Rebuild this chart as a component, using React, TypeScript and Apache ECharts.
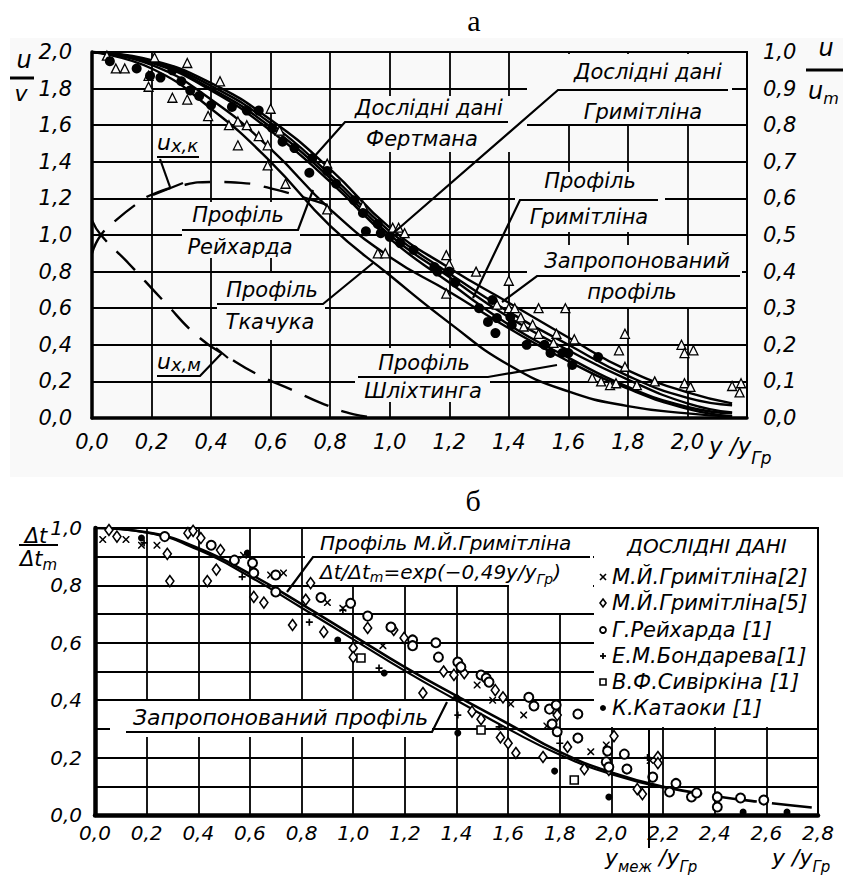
import React, { useEffect, useRef } from 'react';
import * as echarts from 'echarts';

const FONT = "'DejaVu Sans', 'Liberation Sans', sans-serif";
const SERIF = "'Liberation Serif', 'DejaVu Serif', serif";
const BG = '#f9f9f9';

// ---------- Panel "а" (top): u/v vs y/yГр ----------
const topProposed = [[0, 2.0], [0.2, 1.955], [0.4, 1.83], [0.6, 1.63], [0.8, 1.36], [1.0, 1.04], [1.2, 0.82], [1.4, 0.63], [1.6, 0.44], [1.8, 0.26], [2.0, 0.14], [2.15, 0.08]];
const topFertman = [[0, 2.0], [0.2, 1.95], [0.4, 1.815], [0.6, 1.61], [0.8, 1.33], [1.0, 1.02], [1.2, 0.79], [1.4, 0.58], [1.6, 0.4], [1.8, 0.23], [2.0, 0.11], [2.15, 0.07]];
const topGrimitlin = [[0, 2.0], [0.2, 1.945], [0.4, 1.8], [0.6, 1.59], [0.8, 1.31], [1.0, 1.0], [1.2, 0.77], [1.4, 0.55], [1.6, 0.37], [1.8, 0.21], [2.0, 0.08], [2.15, 0.03]];
const topSchlichting = [[0, 2.0], [0.2, 1.94], [0.4, 1.79], [0.6, 1.57], [0.8, 1.29], [1.0, 0.98], [1.2, 0.74], [1.4, 0.51], [1.6, 0.33], [1.8, 0.17], [2.0, 0.06], [2.15, 0.025]];
const topReichardt = [[0, 2.0], [0.2, 1.93], [0.4, 1.74], [0.6, 1.47], [0.8, 1.14], [1.0, 0.88], [1.2, 0.69], [1.4, 0.49], [1.6, 0.31], [1.8, 0.16], [2.0, 0.05], [2.15, 0.01]];
const topTkachuk = [[0, 2.0], [0.2, 1.91], [0.4, 1.69], [0.6, 1.4], [0.8, 1.05], [1.0, 0.78], [1.2, 0.52], [1.4, 0.29], [1.6, 0.145], [1.8, 0.065], [2.0, 0.025], [2.15, 0.008]];
const uxk = [[0, 0.9], [0.03, 1.0], [0.08, 1.08], [0.15, 1.17], [0.2, 1.22], [0.3, 1.27], [0.4, 1.29], [0.5, 1.285], [0.6, 1.255], [0.7, 1.21], [0.8, 1.16]];
const uxm = [[0, 1.08], [0.03, 1.0], [0.12, 0.85], [0.24, 0.64], [0.36, 0.44], [0.46, 0.33], [0.56, 0.235], [0.67, 0.155], [0.78, 0.075], [0.88, 0.02], [0.97, 0.0]];
const topTriangles = [[0.05, 1.98], [0.08, 1.91], [0.11, 1.91], [0.19, 1.87], [0.19, 1.81], [0.21, 1.97], [0.32, 1.94], [0.27, 1.75], [0.32, 1.74], [0.39, 1.65], [0.43, 1.84], [0.46, 1.6], [0.49, 1.62], [0.49, 1.49], [0.52, 1.6], [0.56, 1.54], [0.6, 1.69], [0.59, 1.49], [0.59, 1.38], [0.63, 1.57], [0.65, 1.28], [0.79, 1.39], [0.79, 1.14], [0.91, 1.16], [1.01, 1.04], [1.03, 1.04], [1.05, 1.01], [0.96, 0.9], [0.985, 0.9], [1.19, 0.89], [1.2, 0.84], [1.19, 0.68], [1.29, 0.8], [1.4, 0.75], [1.36, 0.62], [1.4, 0.6], [1.42, 0.6], [1.44, 0.55], [1.45, 0.5], [1.48, 0.51], [1.5, 0.46], [1.5, 0.6], [1.56, 0.46], [1.59, 0.6], [1.62, 0.43], [1.55, 0.41], [1.79, 0.46], [1.77, 0.37], [1.79, 0.28], [1.68, 0.22], [1.71, 0.2], [1.74, 0.18], [1.76, 0.19], [1.83, 0.18], [1.89, 0.2], [1.98, 0.4], [1.99, 0.355], [2.02, 0.37], [1.99, 0.19], [2.01, 0.17], [2.15, 0.175], [2.18, 0.19], [2.175, 0.14]];
const topDots = [[0.06, 1.95], [0.15, 1.91], [0.195, 1.87], [0.23, 1.86], [0.27, 1.9], [0.3, 1.84], [0.33, 1.79], [0.36, 1.76], [0.4, 1.71], [0.47, 1.7], [0.52, 1.68], [0.56, 1.68], [0.605, 1.585], [0.64, 1.51], [0.68, 1.475], [0.74, 1.42], [0.73, 1.34], [0.79, 1.35], [0.82, 1.28], [0.88, 1.19], [0.91, 1.12], [0.96, 1.06], [0.92, 1.02], [0.97, 1.01], [1.0, 0.99], [1.035, 0.956], [1.08, 0.918], [1.15, 0.825], [1.16, 0.8], [1.2, 0.8], [1.22, 0.74], [1.3, 0.6], [1.345, 0.645], [1.33, 0.525], [1.36, 0.546], [1.405, 0.552], [1.41, 0.508], [1.355, 0.464], [1.46, 0.4], [1.52, 0.4], [1.54, 0.355], [1.58, 0.355], [1.6, 0.355], [1.613, 0.29], [1.7, 0.333]];

// ---------- Panel "б" (bottom): Δt/Δtm vs y/yГр ----------
const botGrimLine = [[0, 1.0], [0.2, 0.985], [0.4, 0.93], [0.6, 0.84], [0.8, 0.735], [1.0, 0.625], [1.2, 0.515], [1.4, 0.415], [1.6, 0.318], [1.8, 0.22], [2.0, 0.148], [2.2, 0.098]];
const botGrimDashed = [[2.2, 0.098], [2.4, 0.066], [2.6, 0.043], [2.8, 0.024]];
const botProposed = [[0, 1.0], [0.2, 0.984], [0.4, 0.924], [0.6, 0.83], [0.8, 0.722], [1.0, 0.612], [1.2, 0.502], [1.4, 0.4], [1.6, 0.3], [1.8, 0.21], [2.0, 0.142], [2.2, 0.095]];
const grim2 = [[0.03, 0.96], [0.12, 0.96], [0.18, 0.94], [0.24, 0.94], [0.575, 0.905], [0.68, 0.836], [0.73, 0.843], [0.9, 0.74], [0.96, 0.72], [1.115, 0.59], [1.48, 0.453], [1.54, 0.4], [1.61, 0.387], [1.66, 0.348], [1.75, 0.31], [1.92, 0.22], [1.98, 0.244], [2.15, 0.19]];
const grim5 = [[0.054, 0.993], [0.085, 0.97], [0.28, 0.91], [0.29, 0.815], [0.36, 0.982], [0.38, 0.99], [0.41, 0.965], [0.435, 0.815], [0.47, 0.855], [0.486, 0.923], [0.615, 0.76], [0.654, 0.74], [0.765, 0.662], [0.816, 0.75], [0.835, 0.808], [0.886, 0.638], [1.0, 0.582], [1.0, 0.55], [1.056, 0.652], [1.157, 0.645], [1.197, 0.617], [1.27, 0.425], [1.35, 0.5], [1.39, 0.488], [1.43, 0.494], [1.46, 0.36], [1.495, 0.334], [1.55, 0.435], [1.58, 0.41], [1.57, 0.27], [1.6, 0.25], [1.63, 0.216], [1.735, 0.202], [1.78, 0.366], [1.79, 0.348], [1.83, 0.237], [1.895, 0.16], [2.01, 0.275], [1.99, 0.157], [2.1, 0.09], [2.12, 0.073], [2.18, 0.202], [2.18, 0.181]];
const reichardt = [[0.27, 0.97], [0.45, 0.94], [0.54, 0.888], [0.61, 0.878], [0.615, 0.843], [0.7, 0.836], [0.7, 0.777], [0.875, 0.758], [0.99, 0.738], [1.056, 0.693], [1.146, 0.655], [1.23, 0.61], [1.23, 0.59], [1.32, 0.6], [1.33, 0.55], [1.405, 0.533], [1.417, 0.516], [1.495, 0.488], [1.515, 0.477], [1.526, 0.463], [1.68, 0.41], [1.7, 0.38], [1.76, 0.369], [1.786, 0.383], [1.77, 0.317], [1.79, 0.29], [1.87, 0.352], [1.87, 0.268], [1.985, 0.223], [1.98, 0.185], [1.99, 0.167], [2.05, 0.212], [2.06, 0.16], [2.16, 0.132], [2.225, 0.08], [2.25, 0.11], [2.31, 0.063], [2.33, 0.077], [2.41, 0.063], [2.41, 0.028], [2.5, 0.059], [2.59, 0.052]];
const bondareva = [[0.19, 0.948], [0.57, 0.83], [0.83, 0.672], [0.96, 0.714], [1.1, 0.512], [1.405, 0.348], [1.565, 0.307], [1.8, 0.25], [2.14, 0.2]];
const sivirkina = [[1.03, 0.547], [1.495, 0.296], [1.856, 0.122]];
const kataoka = [[0.18, 0.965], [0.59, 0.913], [0.94, 0.61], [1.12, 0.495], [1.4, 0.408], [1.405, 0.286], [1.78, 0.153], [1.99, 0.063], [2.51, 0.01], [2.68, 0.01]];

const legendNames = ['М.Й.Гримітліна[2]', 'М.Й.Гримітліна[5]', 'Г.Рейхарда [1]', 'Е.М.Бондарева[1]', 'В.Ф.Сивіркіна [1]', 'К.Катаоки [1]'];

const fmt = (v: number) => v.toFixed(1).replace('.', ',');

let ctx: CanvasRenderingContext2D | null = null;
function mw(text: string, font: string) {
  if (!ctx) ctx = document.createElement('canvas').getContext('2d');
  ctx!.font = font;
  return ctx!.measureText(text).width;
}
function txt(x: number, y: number, text: string, size = 21, align = 'center', family = FONT, italic = true) {
  return {
    type: 'text', x, y, z: 20, silent: true,
    style: { text, font: `${italic ? 'italic ' : ''}${size}px ${family}`, fill: '#000', textAlign: align, textVerticalAlign: 'middle', align, verticalAlign: 'middle' },
  };
}
function comp(x: number, y: number, parts: [string, number, number][], align = 'left') {
  const widths = parts.map(([t, s]) => mw(t, `italic ${s}px ${FONT}`));
  const total = widths.reduce((a, b) => a + b, 0);
  let cx = align === 'center' ? x - total / 2 : x;
  return parts.map(([t, s, dy], i) => {
    const el = txt(cx, y + dy, t, s, 'left');
    cx += widths[i];
    return el;
  });
}
function pl(points: number[][], w = 2.2) {
  return { type: 'polyline', z: 20, silent: true, shape: { points }, style: { stroke: '#000', lineWidth: w, fill: 'none' } };
}
function wr(x: number, y: number, w: number, h: number, fill = '#fff') {
  return { type: 'rect', z: 1, silent: true, shape: { x, y, width: w, height: h }, style: { fill } };
}

const axisLabelStyle = (size: number) => ({ color: '#000', fontFamily: FONT, fontStyle: 'italic', fontSize: size });
const split = { show: true, lineStyle: { color: '#000', width: 1.8 } };

function lineSeries(data: number[][], xi: number, yi: number, width = 2.4, dash: any = 'solid') {
  return { type: 'line', xAxisIndex: xi, yAxisIndex: yi, data, smooth: true, symbol: 'none', silent: true, z: 3, lineStyle: { color: '#000', width, type: dash } };
}
function scatter(data: number[][], xi: number, yi: number, symbol: string, size: any, fill: string, border = 0) {
  return { type: 'scatter', xAxisIndex: xi, yAxisIndex: yi, data, symbol, symbolSize: size, silent: true, z: 4, itemStyle: { color: fill, borderColor: '#000', borderWidth: border, opacity: 1 } };
}

const ASTER = 'path://M0,0L1.5,0L5,3.5L8.5,0L10,0L10,1.5L6.5,5L10,8.5L10,10L8.5,10L5,6.5L1.5,10L0,10L0,8.5L3.5,5L0,1.5Z';
const PLUS = 'path://M3.8,0H6.2V3.8H10V6.2H6.2V10H3.8V6.2H0V3.8H3.8Z';

function buildOption() {
  const graphic: any[] = [];
  graphic.push({ type: 'rect', z: -1, silent: true, shape: { x: 10, y: 38, width: 833, height: 439 }, style: { fill: BG } });
  graphic.push(txt(474, 20, 'а', 30, 'center', SERIF, false));
  graphic.push(txt(473, 500, 'б', 30, 'center', SERIF, false));

  // ---- top: label boxes hiding grid
  graphic.push(wr(343, 96, 184, 56, BG));
  graphic.push(wr(527, 54, 205, 70, BG));
  graphic.push(wr(515, 172, 150, 60, BG));
  graphic.push(wr(527, 245, 215, 62, BG));
  graphic.push(wr(355, 348, 135, 54, BG));
  graphic.push(wr(182, 202, 118, 56, BG));
  graphic.push(wr(217, 273, 108, 67, BG));

  // ---- top labels
  const topLabels: [string, number, number][] = [
    ['Дослідні дані', 429, 108], ['Фертмана', 422, 139],
    ['Дослідні дані', 648, 72], ['Гримітліна', 643, 112],
    ['Профіль', 590, 181], ['Гримітліна', 589, 217],
    ['Запропонований', 637, 261], ['профіль', 632, 292],
    ['Профіль', 424, 363], ['Шліхтинга', 423, 391],
    ['Профіль', 238, 215], ['Рейхарда', 240, 247],
    ['Профіль', 272, 290], ['Ткачука', 270, 322],
  ];
  topLabels.forEach(([t, x, y]) => graphic.push(txt(x, y, t, 21)));
  graphic.push(pl([[313, 158], [345, 122], [508, 122]]));
  graphic.push(pl([[390, 236], [558, 90], [728, 90]]));
  graphic.push(pl([[473, 298], [520, 200], [658, 200]]));
  graphic.push(pl([[502, 302], [537, 276], [740, 276]]));
  graphic.push(pl([[358, 377], [488, 377], [557, 365]]));
  graphic.push(pl([[182, 230], [298, 230], [313, 190]]));
  graphic.push(pl([[217, 304], [323, 304], [373, 263]]));
  comp(157, 142, [['u', 22, 0], ['x,к', 18, 3]]).forEach((e) => graphic.push(e));
  graphic.push(pl([[157, 157], [199, 157]]));
  graphic.push(pl([[160, 159], [170, 187]]));
  graphic.push(pl([[153, 195], [183, 183]]));
  comp(157, 361, [['u', 22, 0], ['x,м', 18, 3]]).forEach((e) => graphic.push(e));
  graphic.push(pl([[157, 376], [200, 376], [222, 353]]));
  graphic.push(pl([[216, 348], [228, 358]]));

  // axis titles top
  graphic.push(txt(24, 60, 'u', 24));
  graphic.push(pl([[10, 78], [34, 78]], 3));
  graphic.push(txt(21, 93, 'v', 22));
  graphic.push(txt(826, 48, 'u', 24));
  graphic.push(pl([[806, 70], [843, 70]], 3));
  comp(808, 91, [['u', 24, 0], ['m', 16, 7]]).forEach((e) => graphic.push(e));
  comp(709, 446, [['y', 23, 0], [' /', 23, 0], ['y', 23, 0], ['Гр', 17, 12]]).forEach((e) => graphic.push(e));

  // ---- bottom: label boxes hiding grid
  graphic.push(wr(305, 529, 288, 56));
  graphic.push(wr(509, 584, 84, 29));
  graphic.push(wr(594, 529, 223, 198));
  graphic.push(wr(110, 701, 322, 36));

  graphic.push(txt(320, 543, 'Профіль М.Й.Гримітліна', 20, 'left'));
  comp(320, 572, [['Δt/Δt', 20, 0], ['m', 14, 5], ['=exp(−0,49y/y', 20, 0], ['Гр', 14, 7], [')', 20, 0]]).forEach((e) => graphic.push(e));
  graphic.push(pl([[287, 592], [313, 557], [590, 557]]));
  graphic.push(txt(133, 717, 'Запропонований профіль', 22, 'left'));
  graphic.push(pl([[126, 732], [432, 732], [447, 702]]));

  // legend
  graphic.push(txt(707, 546, 'ДОСЛІДНІ ДАНІ', 20));
  const ly = [577, 603, 630, 656, 682, 708];
  legendNames.forEach((n, i) => graphic.push(txt(612, ly[i], n, 21, 'left')));
  const mx = 603;
  graphic.push(pl([[mx - 3, ly[0] - 3], [mx + 3, ly[0] + 3]], 1.6));
  graphic.push(pl([[mx - 3, ly[0] + 3], [mx + 3, ly[0] - 3]], 1.6));
  graphic.push({ type: 'polygon', z: 20, silent: true, shape: { points: [[mx, ly[1] - 4], [mx + 3, ly[1]], [mx, ly[1] + 4], [mx - 3, ly[1]]] }, style: { fill: '#fff', stroke: '#000', lineWidth: 1.6 } });
  graphic.push({ type: 'circle', z: 20, silent: true, shape: { cx: mx, cy: ly[2], r: 3 }, style: { fill: '#fff', stroke: '#000', lineWidth: 1.8 } });
  graphic.push(pl([[mx - 3, ly[3]], [mx + 3, ly[3]]], 1.8));
  graphic.push(pl([[mx, ly[3] - 3], [mx, ly[3] + 3]], 1.8));
  graphic.push({ type: 'rect', z: 20, silent: true, shape: { x: mx - 3, y: ly[4] - 3, width: 6, height: 6 }, style: { fill: '#fff', stroke: '#000', lineWidth: 1.6 } });
  graphic.push({ type: 'circle', z: 20, silent: true, shape: { cx: mx, cy: ly[5], r: 3 }, style: { fill: '#000' } });

  // bottom axis titles
  graphic.push(txt(36, 536, 'Δt', 21));
  graphic.push(pl([[19, 545], [58, 545]], 2));
  comp(20, 559, [['Δt', 21, 0], ['m', 15, 6]]).forEach((e) => graphic.push(e));
  comp(605, 857, [['y', 22, 0], ['меж', 15, 10], [' /', 22, 0], ['y', 22, 0], ['Гр', 15, 10]]).forEach((e) => graphic.push(e));
  comp(772, 857, [['y', 22, 0], [' /', 22, 0], ['y', 22, 0], ['Гр', 15, 10]]).forEach((e) => graphic.push(e));
  graphic.push(pl([[649, 728], [649, 848]], 2));

  return {
    animation: false,
    backgroundColor: '#fff',
    grid: [
      { left: 92, top: 52, width: 655, height: 366, show: true, borderColor: '#000', borderWidth: 2, backgroundColor: 'transparent' },
      { left: 95, top: 528, width: 723, height: 287, show: true, borderColor: '#000', borderWidth: 2, backgroundColor: 'transparent' },
    ],
    xAxis: [
      {
        gridIndex: 0, type: 'value', min: 0, max: 2.2, interval: 0.2,
        axisLine: { show: true, lineStyle: { color: '#000', width: 3.5 } }, axisTick: { show: false }, splitLine: split,
        axisLabel: { ...axisLabelStyle(21), margin: 13, formatter: (v: number) => (v > 2.1 ? '' : fmt(v)) },
      },
      {
        gridIndex: 1, type: 'value', min: 0, max: 2.8, interval: 0.2,
        axisLine: { show: true, lineStyle: { color: '#000', width: 4.5 } }, axisTick: { show: false }, splitLine: split,
        axisLabel: { ...axisLabelStyle(20), margin: 8, formatter: (v: number) => fmt(v) },
      },
    ],
    yAxis: [
      {
        gridIndex: 0, type: 'value', min: 0, max: 2, interval: 0.2,
        axisLine: { show: true, lineStyle: { color: '#000', width: 3.5 } }, axisTick: { show: false }, splitLine: split,
        axisLabel: { ...axisLabelStyle(21), margin: 20, formatter: (v: number) => fmt(v) },
      },
      {
        gridIndex: 0, type: 'value', min: 0, max: 1, interval: 0.1, position: 'right',
        axisLine: { show: true, lineStyle: { color: '#000', width: 2 } }, axisTick: { show: false }, splitLine: { show: false },
        axisLabel: { ...axisLabelStyle(21), margin: 16, formatter: (v: number) => fmt(v) },
      },
      {
        gridIndex: 1, type: 'value', min: 0, max: 1, interval: 0.1,
        axisLine: { show: true, lineStyle: { color: '#000', width: 4.5 } }, axisTick: { show: false }, splitLine: split,
        axisLabel: { ...axisLabelStyle(20), margin: 13, formatter: (v: number) => (Math.round(v * 10) % 2 === 0 ? fmt(v) : '') },
      },
    ],
    graphic,
    series: [
      lineSeries(topProposed, 0, 0),
      lineSeries(topFertman, 0, 0),
      lineSeries(topGrimitlin, 0, 0),
      lineSeries(topSchlichting, 0, 0),
      lineSeries(topReichardt, 0, 0),
      lineSeries(topTkachuk, 0, 0),
      lineSeries(uxk, 0, 0, 2.4, [26, 14]),
      lineSeries(uxm, 0, 0, 2.4, [26, 14]),
      scatter(topTriangles, 0, 0, 'triangle', 9, BG, 1.3),
      scatter(topDots, 0, 0, 'circle', 10, '#000', 0),
      lineSeries(botGrimLine, 1, 2, 2.6),
      lineSeries(botGrimDashed, 1, 2, 2.6, [40, 15]),
      lineSeries(botProposed, 1, 2, 2.2),
      scatter(grim2, 1, 2, ASTER, 7, '#000', 0),
      scatter(grim5, 1, 2, 'diamond', [8, 11], '#fff', 1.6),
      scatter(reichardt, 1, 2, 'circle', 9, '#fff', 2),
      scatter(bondareva, 1, 2, PLUS, 7, '#000', 0),
      scatter(sivirkina, 1, 2, 'rect', 8, '#fff', 1.6),
      scatter(kataoka, 1, 2, 'circle', 7, '#000', 0),
    ],
  };
}

export default function App() {
  const ref = useRef<HTMLDivElement>(null);
  useEffect(() => {
    const chart = echarts.init(ref.current!, null, { renderer: 'svg' });
    chart.setOption(buildOption() as any);
    return () => chart.dispose();
  }, []);
  return <div ref={ref} style={{ position: 'fixed', left: 0, top: 0, width: 843, height: 877 }} />;
}
